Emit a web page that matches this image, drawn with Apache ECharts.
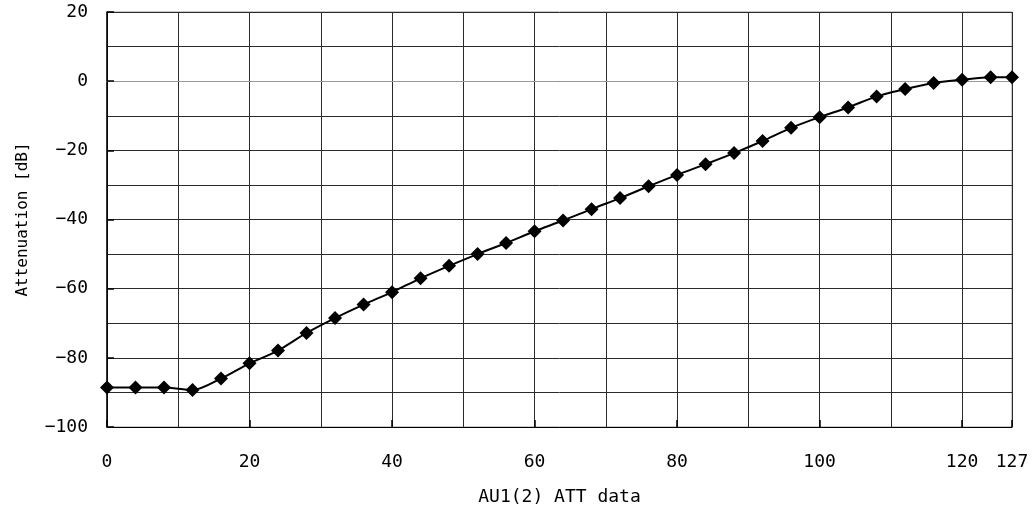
<!DOCTYPE html>
<html>
<head>
<meta charset="utf-8">
<script src="https://cdn.jsdelivr.net/npm/echarts@6/dist/echarts.min.js"></script>
<style>html,body{margin:0;padding:0;background:#fff;}#c{width:1034px;height:511px;}</style>
</head>
<body>
<div id="c"></div>
<script>
var xValues = [0,4,8,12,16,20,24,28,32,36,40,44,48,52,56,60,64,68,72,76,80,84,88,92,96,100,104,108,112,116,120,124,127];
var attenuation = [-88.6,-88.6,-88.6,-89.3,-86.0,-81.6,-77.9,-72.8,-68.5,-64.6,-61.0,-57.0,-53.4,-50.0,-46.8,-43.4,-40.3,-37.0,-33.8,-30.4,-27.1,-24.0,-20.8,-17.3,-13.5,-10.4,-7.6,-4.4,-2.3,-0.5,0.4,1.1,1.1];
var xTickLabels = [0,20,40,60,80,100,120,127];
var xTitle = 'AU1(2) ATT data';
var yTitle = 'Attenuation [dB]';

var font = '"DejaVu Sans Mono", monospace';
var points = xValues.map(function(x,i){return [x, attenuation[i]];});
var chart = echarts.init(document.getElementById('c'));
chart.setOption({
  animation: false,
  grid: {left:107, right:22, top:12, bottom:84, show:true, borderColor:'#999', borderWidth:1},
  xAxis: [{
    type:'value', min:0, max:127, interval:10,
    axisLine:{lineStyle:{color:'#999', width:1}},
    axisTick:{show:false},
    splitLine:{show:true, lineStyle:{color:'#2a2a2a', width:1}},
    axisLabel:{fontFamily:font, fontSize:18, color:'#000', margin:26, showMaxLabel:true,
      formatter:function(v){return xTickLabels.indexOf(v)>=0 ? String(v) : '';}},
    name: xTitle, nameLocation:'middle', nameGap:61,
    nameTextStyle:{fontFamily:font, fontSize:18, color:'#000'}
  },{
    type:'value', min:0, max:127, interval:20, position:'bottom',
    axisLine:{show:true, onZero:true, lineStyle:{color:'#000', width:1}},
    axisTick:{show:true, inside:true, length:7, lineStyle:{color:'#000', width:1.5}},
    axisLabel:{show:false}, splitLine:{show:false}
  }],
  yAxis: {
    type:'value', min:-100, max:20, interval:20,
    axisLine:{show:true, onZero:false, lineStyle:{color:'#000', width:1.5}},
    axisTick:{show:true, inside:true, length:7, lineStyle:{color:'#000', width:1.5}},
    minorTick:{show:false, splitNumber:2},
    splitLine:{show:true, lineStyle:{color:'#2a2a2a', width:1}},
    minorSplitLine:{show:true, lineStyle:{color:'#2a2a2a', width:1}},
    axisLabel:{fontFamily:font, fontSize:18, color:'#000', margin:19,
      formatter:function(v){return String(v).replace('-','\u2212');}},
    name: yTitle, nameLocation:'middle', nameGap:76,
    nameTextStyle:{fontFamily:font, fontSize:16, color:'#000'}
  },
  series: [{
    type:'line', xAxisIndex:0, data: points, smooth:0.3,
    symbol:'diamond', symbolSize:14,
    lineStyle:{color:'#000', width:2},
    itemStyle:{color:'#000'}
  }]
});
</script>
</body>
</html>
